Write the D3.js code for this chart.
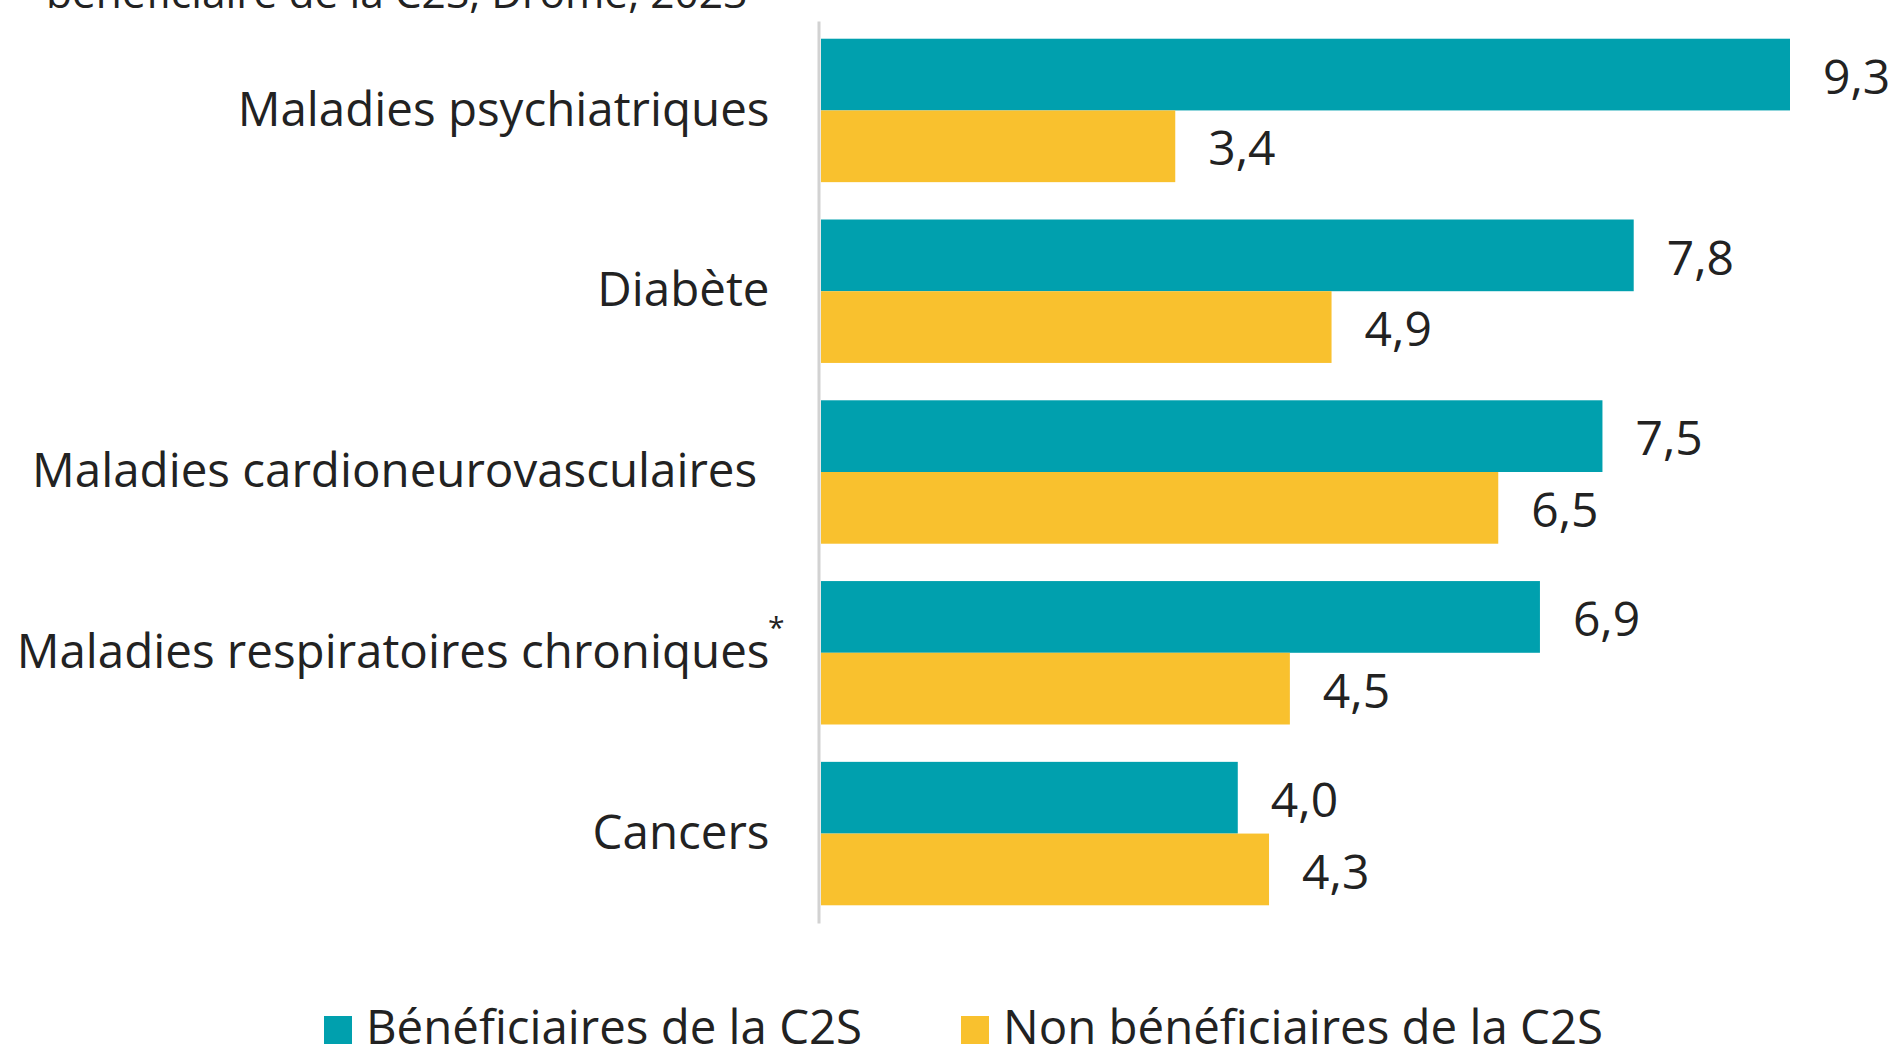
<!DOCTYPE html>
<html>
<head>
<meta charset="utf-8">
<script src="https://cdn.jsdelivr.net/npm/d3@7"></script>
<style>
  body { margin: 0; background: #fff; }
  svg text { font-family: "Open Sans", sans-serif; fill: #222; }
</style>
</head>
<body>
<svg id="chart"></svg>
<script>
const categories = [
    'Maladies psychiatriques',
    'Diabète',
    'Maladies cardioneurovasculaires\u00a0',
    'Maladies respiratoires chroniques',
    'Cancers'
];
const series = ['Bénéficiaires de la C2S', 'Non bénéficiaires de la C2S'];
const beneficiaires = [9.3, 7.8, 7.5, 6.9, 4.0];
const nonBeneficiaires = [3.4, 4.9, 6.5, 4.5, 4.3];
const colors = ['#00a0ae', '#f9c12e'];
const titleLine = 'bénéficiaire de la C2S, Drôme, 2023';

const width = 1898, height = 1047;
const fmt = d => d.toFixed(1).replace('.', ',');

const svg = d3.select('#chart')
    .attr('width', width)
    .attr('height', height);

// second line of the title, mostly cut off at the top
svg.append('text')
    .attr('x', 46)
    .attr('y', 8)
    .style('font-size', '42.5px')
    .text(titleLine);

const yscale = d3.scaleBand()
    .domain(categories)
    .range([21, 923])
    .paddingInner(0.2066)
    .paddingOuter(0.098);

const inner = d3.scaleBand()
    .domain(series)
    .range([0, yscale.bandwidth()]);

const xscale = d3.scaleLinear()
    .domain([0, 9.3])
    .range([821, 1790]);

const rows = categories.map((c, i) => ({
    cat: c,
    values: [beneficiaires[i], nonBeneficiaires[i]]
}));

// bars
const groups = svg.append('g')
    .selectAll('g')
    .data(rows)
    .join('g')
    .attr('transform', d => `translate(0, ${yscale(d.cat)})`);

groups.selectAll('rect')
    .data(d => d.values.map((v, j) => ({ s: series[j], v: v, j: j })))
    .join('rect')
    .attr('x', xscale(0))
    .attr('y', d => inner(d.s))
    .attr('width', d => xscale(d.v) - xscale(0))
    .attr('height', inner.bandwidth())
    .attr('fill', d => colors[d.j]);

groups.selectAll('text')
    .data(d => d.values.map((v, j) => ({ s: series[j], v: v })))
    .join('text')
    .attr('x', d => xscale(d.v) + 33)
    .attr('y', d => inner(d.s) + inner.bandwidth() / 2)
    .attr('dy', '0.4em')
    .style('font-size', '48px')
    .text(d => fmt(d.v));

// category axis
const yaxis = d3.axisLeft(yscale)
    .tickSize(0)
    .tickPadding(49);

const yaxis_group = svg.append('g')
    .attr('transform', 'translate(818.5, 0)')
    .call(yaxis);

yaxis_group.select('.domain')
    .attr('stroke', '#d2d2d2')
    .attr('stroke-width', 3);

yaxis_group.selectAll('text')
    .style('font-size', '47.5px')
    .attr('fill', '#222');

// footnote asterisk on respiratory label
svg.append('text')
    .attr('x', 768)
    .attr('y', yscale(categories[3]) + yscale.bandwidth() / 2 - 15)
    .style('font-size', '30px')
    .text('*');

// legend
const legend = svg.append('g')
    .attr('transform', 'translate(0, 1030)');

const legendX = [324, 961];
const items = legend.selectAll('g')
    .data(series)
    .join('g')
    .attr('transform', (d, i) => `translate(${legendX[i]}, 0)`);

items.append('rect')
    .attr('x', 0)
    .attr('y', -14)
    .attr('width', 28)
    .attr('height', 28)
    .attr('fill', (d, i) => colors[i]);

items.append('text')
    .attr('x', 42)
    .attr('y', 14)
    .style('font-size', '47.4px')
    .text(d => d);
</script>
</body>
</html>
